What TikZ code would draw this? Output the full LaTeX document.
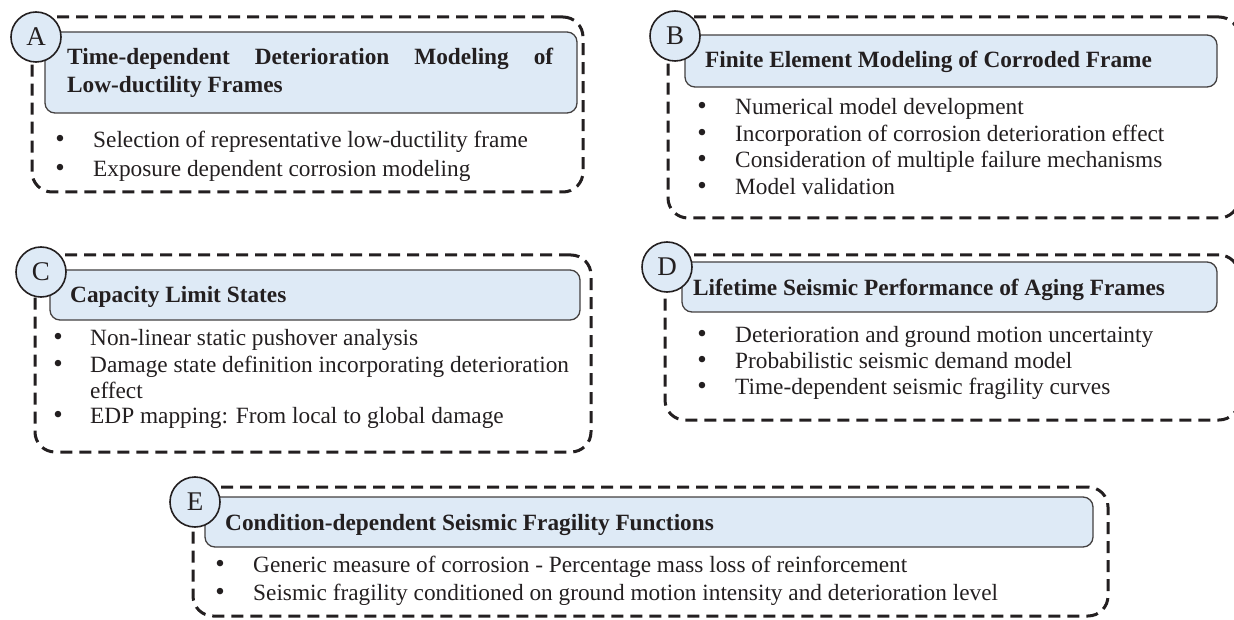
\documentclass[tikz,border=0pt]{standalone}
\usepackage{fontspec}
\setmainfont{Liberation Serif}
\definecolor{titleblue}{HTML}{DEEAF6}
\definecolor{ink}{HTML}{231F20}
\newcommand{\titlefont}{\fontsize{23.3}{28}\selectfont\bfseries}
\newcommand{\bodyfont}{\fontsize{23.3}{26}\selectfont}
\tikzset{
  panel/.style={draw=ink, line width=3pt, dash pattern=on 12pt off 7pt,
    rounded corners=20pt, inner sep=0pt},
  titlebox/.style={draw=ink!85, fill=titleblue, line width=1.3pt,
    rounded corners=10pt, inner sep=0pt},
  badge/.style={circle, draw=ink, fill=titleblue, line width=1.6pt,
    minimum size=50pt, inner sep=0pt, text=ink,
    font=\fontsize{27}{27}\selectfont},
  ttl/.style={anchor=base west, inner sep=0pt, text=ink, font=\titlefont},
  item/.style={anchor=base west, inner sep=0pt, text=ink, font=\bodyfont},
  bullet/.style={anchor=base, inner sep=0pt, text=ink,
    font=\fontsize{27}{27}\selectfont},
}
\begin{document}
\begin{tikzpicture}[x=1pt, y=-1pt]
\useasboundingbox (0,0) rectangle (1234,620);
\begin{scope}
\clip (0,0) rectangle (1234,620);

% ---- A: deterioration modeling ----
\node[panel, minimum width=551pt, minimum height=175pt] (panelA) at (307.5,104.5) {};
\node[titlebox, minimum width=532pt, minimum height=81pt] (titleA) at (311,72.5) {};
\node[ttl] (tA1) at (67,65) {\makebox[486pt][s]{Time-dependent Deterioration Modeling of}};
\node[ttl] (tA2) at (67,93) {Low-ductility Frames};
\node[bullet] (bA1) at (60,148) {•};
\node[item] (iA1) at (93,148) {Selection of representative low-ductility frame};
\node[bullet] (bA2) at (60,177) {•};
\node[item] (iA2) at (93,177) {Exposure dependent corrosion modeling};
\node[badge] (cA) at (36,37) {A};

% ---- B: finite element modeling ----
\node[panel, minimum width=571pt, minimum height=201pt] (panelB) at (953.5,117.5) {};
\node[titlebox, minimum width=532pt, minimum height=52pt] (titleB) at (951,61) {};
\node[ttl] (tB) at (705,68) {Finite Element Modeling of Corroded Frame};
\node[bullet] (bB1) at (702,115) {•};
\node[item] (iB1) at (735,115) {Numerical model development};
\node[bullet] (bB2) at (702,142) {•};
\node[item] (iB2) at (735,142) {Incorporation of corrosion deterioration effect};
\node[bullet] (bB3) at (702,168) {•};
\node[item] (iB3) at (735,168) {Consideration of multiple failure mechanisms};
\node[bullet] (bB4) at (702,195) {•};
\node[item] (iB4) at (735,195) {Model validation};
\node[badge] (cB) at (675,36) {B};

% ---- C: capacity limit states ----
\node[panel, minimum width=556pt, minimum height=197pt] (panelC) at (313,353.5) {};
\node[titlebox, minimum width=530pt, minimum height=50pt] (titleC) at (315,295) {};
\node[ttl] (tC) at (70,303) {Capacity Limit States};
\node[bullet] (bC1) at (58,345) {•};
\node[item] (iC1) at (90,345) {Non-linear static pushover analysis};
\node[bullet] (bC2) at (58,372) {•};
\node[item] (iC2) at (90,372) {Damage state definition incorporating deterioration};
\node[item] (iC2b) at (90,398) {effect};
\node[bullet] (bC3) at (58,423) {•};
\node[item] (iC3) at (90,423) {EDP mapping: From local to global damage};
\node[badge] (cC) at (41,272) {C};

% ---- D: lifetime performance ----
\node[panel, minimum width=574pt, minimum height=165pt] (panelD) at (952,337.5) {};
\node[titlebox, minimum width=535pt, minimum height=50pt] (titleD) at (949.5,287) {};
\node[ttl] (tD) at (693,296) {Lifetime Seismic Performance of Aging Frames};
\node[bullet] (bD1) at (702,342) {•};
\node[item] (iD1) at (735,342) {Deterioration and ground motion uncertainty};
\node[bullet] (bD2) at (702,368) {•};
\node[item] (iD2) at (735,368) {Probabilistic seismic demand model};
\node[bullet] (bD3) at (702,394) {•};
\node[item] (iD3) at (735,394) {Time-dependent seismic fragility curves};
\node[badge] (cD) at (667,267) {D};

% ---- E: condition-dependent fragility ----
\node[panel, minimum width=915pt, minimum height=129pt] (panelE) at (650.5,551.5) {};
\node[titlebox, minimum width=888pt, minimum height=50pt] (titleE) at (649,522) {};
\node[ttl] (tE) at (225,530) {Condition-dependent Seismic Fragility Functions};
\node[bullet] (bE1) at (220,572) {•};
\node[item] (iE1) at (253,572) {Generic measure of corrosion - Percentage mass loss of reinforcement};
\node[bullet] (bE2) at (220,600) {•};
\node[item] (iE2) at (253,600) {Seismic fragility conditioned on ground motion intensity and deterioration level};
\node[badge] (cE) at (195,502) {E};
\end{scope}
\end{tikzpicture}
\end{document}
